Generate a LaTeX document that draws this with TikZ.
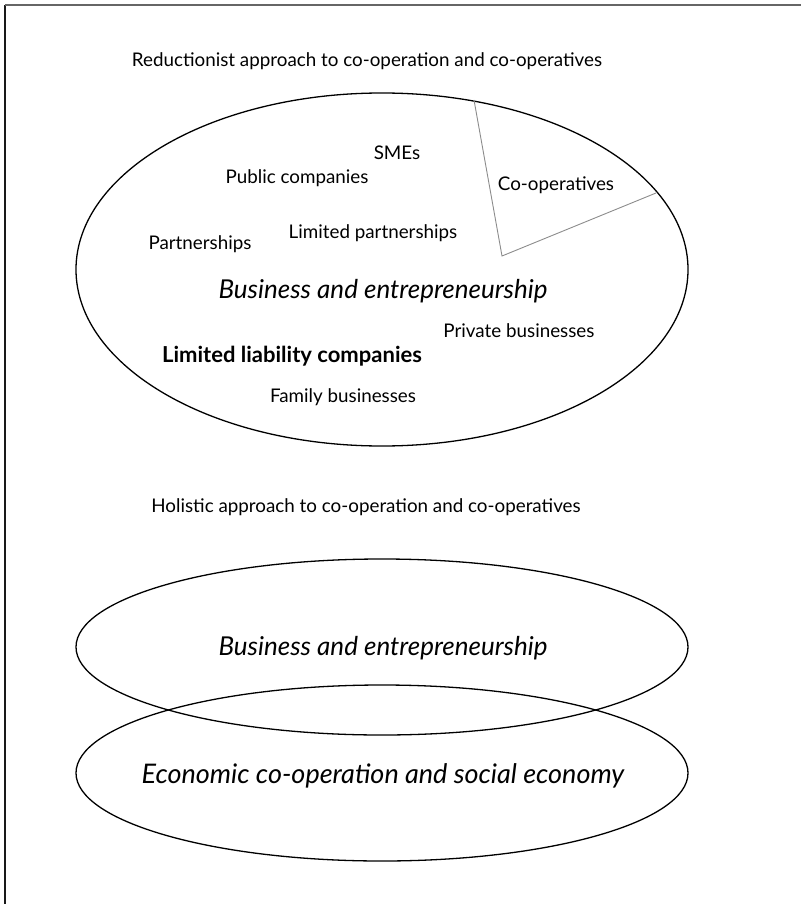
\documentclass[tikz,border=0pt]{standalone}
\usepackage{fontspec}
\setmainfont{Lato}
\usetikzlibrary{shapes.geometric}
\begin{document}
\begin{tikzpicture}[x=1pt,y=-1pt,
  lbl/.style={inner sep=0pt, font=\fontsize{18.8}{22}\selectfont},
  lblb/.style={inner sep=0pt, font=\fontsize{22}{26}\selectfont\bfseries},
  big/.style={inner sep=0pt, font=\fontsize{26}{30}\selectfont\itshape},
  bigb/.style={inner sep=0pt, font=\fontsize{27}{31}\selectfont\itshape},
  oval/.style={draw=black, line width=1.3pt, ellipse, inner sep=0pt},
  wedgeline/.style={draw=black!45, line width=0.9pt},
  framelineA/.style={draw=black!60, line width=2pt},
  framelineB/.style={draw=black!90, line width=2pt}]
\useasboundingbox (0,0) rectangle (801,904);
% frame
\coordinate (fbl) at (5,904);
\coordinate (ftl) at (5,5);
\coordinate (ftr) at (801,5);
\draw[framelineB] (fbl) -- (ftl);
\draw[framelineA] (ftl) -- (ftr);

% reductionist part
\node[lbl] (title1) at (367,61) {Reductionist approach to co-operation and co-operatives};
\node[oval, minimum width=612pt, minimum height=353pt] (bigoval) at (382,269.5) {};
\coordinate (wa) at (474,100);
\coordinate (wapex) at (502,256);
\coordinate (wb) at (656,193);
\draw[wedgeline] (wa) -- (wapex) -- (wb);
\node[lbl] (coop) at (556,185) {Co-operatives};
\node[lbl] (smes) at (397,153) {SMEs};
\node[lbl] (public) at (297,178) {Public companies};
\node[lbl] (limpart) at (373,233) {Limited partnerships};
\node[lbl] (part) at (200,244) {Partnerships};
\node[big] (bus1) at (383,291) {Business and entrepreneurship};
\node[lbl] (private) at (519,331) {Private businesses};
\node[lblb] (llc) at (292,356) {Limited liability companies};
\node[lbl] (family) at (343,397) {Family businesses};

% holistic part
\node[lbl] (title2) at (366,507) {Holistic approach to co-operation and co-operatives};
\node[oval, minimum width=612pt, minimum height=176pt] (ovalbus) at (382,647) {};
\node[oval, minimum width=612pt, minimum height=176pt] (ovaleco) at (382,773) {};
\node[big] (bus2) at (383,648) {Business and entrepreneurship};
\node[bigb] (eco) at (383,776) {Economic co-operation and social economy};
\end{tikzpicture}
\end{document}
